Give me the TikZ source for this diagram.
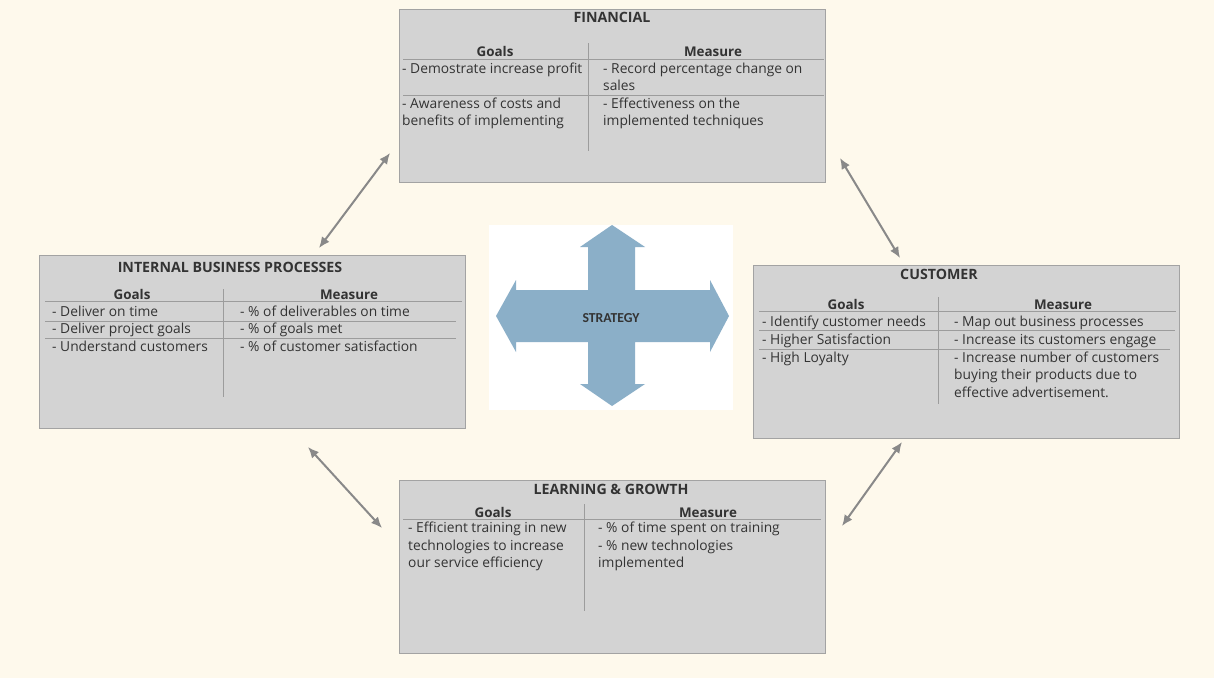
\documentclass[tikz,border=0pt]{standalone}
\usepackage{fontspec}
\setmainfont{Open Sans}
\newfontfamily\strategyfont{Carlito}
\usetikzlibrary{arrows.meta, positioning}

\definecolor{bgcream}{HTML}{FEF9EC}
\definecolor{boxgray}{HTML}{D3D3D3}
\definecolor{edgegray}{HTML}{A3A3A3}
\definecolor{rulegray}{HTML}{9C9C9C}
\definecolor{arrowgray}{HTML}{898989}
\definecolor{crossblue}{HTML}{8BAFC8}
\definecolor{inkgray}{HTML}{333333}

\begin{document}
\begin{tikzpicture}[
    x=1pt, y=-1pt,
    >=Latex, % Set default arrow tip style
    bscbox/.style={draw=edgegray, fill=boxgray, line width=1pt,
        minimum width=426pt, minimum height=173pt, inner sep=0pt},
    boxtitle/.style={font=\fontsize{14.2}{16}\selectfont\bfseries, text=inkgray, inner sep=0pt, anchor=base},
    colhead/.style={font=\fontsize{13.4}{16}\selectfont\bfseries, text=inkgray, inner sep=0pt, anchor=base},
    % multi-line cells sit on the baseline of their last line
    cell/.style={font=\fontsize{13.8}{17.5}\selectfont, text=inkgray, inner sep=0pt, anchor=base west, align=left},
    divider/.style={draw=rulegray, line width=0.8pt},
    link/.style={<->, arrowgray, line width=2pt, >={Latex[length=11pt,width=9.5pt]}},
]

    % Background (fixes the page size)
    \fill[bgcream] (0,0) rectangle (1214,678);
    \useasboundingbox (0,0) rectangle (1214,678);

    % Perspective boxes
    \node[bscbox] (fin)  at (612,95.5)  {};
    \node[bscbox] (ibp)  at (252,341.5) {};
    \node[bscbox] (cust) at (966,351.5) {};
    \node[bscbox] (lg)   at (612,566.5) {};

    % Financial
    \node[boxtitle] (fintitle) at (612,22) {FINANCIAL};
    \node[colhead] (fingoals) at (495,56) {Goals};
    \node[colhead] (finmeas)  at (713,56) {Measure};
    \draw[divider] (403,59) -- (824,59);
    \draw[divider] (403,95) -- (824,95);
    \draw[divider] (588,43) -- (588,151);
    \node[cell] (fing1) at (402,73)    {- Demostrate increase profit};
    \node[cell] (finm1) at (603,90.5)  {- Record percentage change on\\sales};
    \node[cell] (fing2) at (402,125.5) {- Awareness of costs and\\benefits of implementing};
    \node[cell] (finm2) at (603,125.5) {- Effectiveness on the\\implemented techniques};

    % Internal business processes
    \node[boxtitle] (ibptitle) at (230,272) {INTERNAL BUSINESS PROCESSES};
    \node[colhead] (ibpgoals) at (132,299) {Goals};
    \node[colhead] (ibpmeas)  at (349,299) {Measure};
    \draw[divider] (45,301) -- (462,301);
    \draw[divider] (45,321) -- (456,321);
    \draw[divider] (45,338) -- (456,338);
    \draw[divider] (223,289) -- (223,397);
    \node[cell] (ibpg1) at (52,316)  {- Deliver on time};
    \node[cell] (ibpg2) at (52,333)  {- Deliver project goals};
    \node[cell] (ibpg3) at (52,351)  {- Understand customers};
    \node[cell] (ibpm1) at (240,316) {- \% of deliverables on time};
    \node[cell] (ibpm2) at (240,333) {- \% of goals met};
    \node[cell] (ibpm3) at (240,351) {- \% of customer satisfaction};

    % Customer
    \node[boxtitle] (custtitle) at (939,279) {CUSTOMER};
    \node[colhead] (custgoals) at (846,309)  {Goals};
    \node[colhead] (custmeas)  at (1063,309) {Measure};
    \draw[divider] (759,311) -- (1176,311);
    \draw[divider] (759,330) -- (1175,330);
    \draw[divider] (759,349) -- (1170,349);
    \draw[divider] (938,297) -- (938,404);
    \node[cell] (custg1) at (762,326) {- Identify customer needs};
    \node[cell] (custg2) at (762,344) {- Higher Satisfaction};
    \node[cell] (custg3) at (762,362) {- High Loyalty};
    \node[cell] (custm1) at (954,326) {- Map out business processes};
    \node[cell] (custm2) at (954,344) {- Increase its customers engage};
    \node[cell] (custm3) at (954,397) {- Increase number of customers\\buying their products due to\\effective advertisement.};

    % Learning & growth
    \node[boxtitle] (lgtitle) at (611,494) {LEARNING \& GROWTH};
    \node[colhead] (lggoals) at (493,517) {Goals};
    \node[colhead] (lgmeas)  at (708,517) {Measure};
    \draw[divider] (403,519) -- (821,519);
    \draw[divider] (584,504) -- (584,611);
    \node[cell] (lgg1) at (408,567.5) {- Efficient training in new\\technologies to increase\\our service efficiency};
    \node[cell] (lgm1) at (598,567.5) {- \% of time spent on training\\- \% new technologies\\implemented};

    % Strategy cross
    \node[fill=white, minimum width=244pt, minimum height=185pt, inner sep=0pt] (stratbg) at (611,317.5) {};
    \fill[crossblue] (612,225) -- (645,247) -- (635,247) -- (635,290) -- (710,290) -- (710,280)
        -- (729,316) -- (710,352) -- (710,342) -- (635,342) -- (635,384) -- (645,384)
        -- (612,406) -- (580,384) -- (588,384) -- (588,342) -- (516,342) -- (516,352)
        -- (496,316) -- (516,280) -- (516,290) -- (588,290) -- (588,247) -- (580,247) -- cycle;
    \node[font=\strategyfont\fontsize{13.7}{15}\selectfont\bfseries, text=inkgray, inner sep=0pt] (strat) at (611,318) {STRATEGY};

    % Double arrows between the perspectives
    \coordinate (ibpfinA) at (319,248);
    \coordinate (ibpfinB) at (390,153);
    \coordinate (fincustA) at (840,158);
    \coordinate (fincustB) at (900,258);
    \coordinate (ibplgA) at (308,447);
    \coordinate (ibplgB) at (382,528);
    \coordinate (custlgA) at (902,442);
    \coordinate (custlgB) at (842,526);
    \draw[link] (ibpfinA) -- (ibpfinB);
    \draw[link] (fincustA) -- (fincustB);
    \draw[link] (ibplgA) -- (ibplgB);
    \draw[link] (custlgA) -- (custlgB);

\end{tikzpicture}
\end{document}
